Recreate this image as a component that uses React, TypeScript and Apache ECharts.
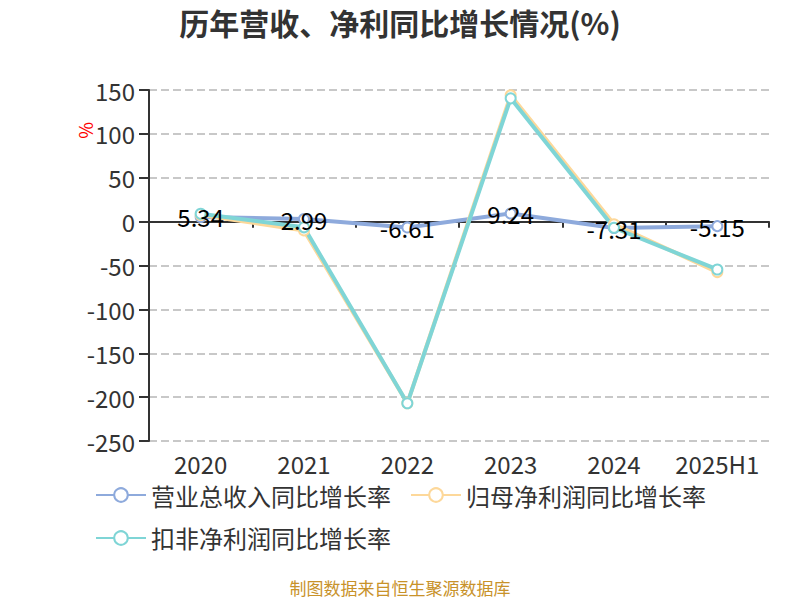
import { useEffect, useRef } from 'react';
import * as echarts from 'echarts';

// ---------------------------------------------------------------------------
// Data
// ---------------------------------------------------------------------------

const CATEGORIES = ['2020', '2021', '2022', '2023', '2024', '2025H1'];
const REVENUE_YOY = [5.34, 2.99, -6.61, 9.24, -7.31, -5.15];
const NET_PROFIT_YOY = [7.5, -10, -207, 144, -3, -57.5];
const DEDUCTED_PROFIT_YOY = [9, -6.5, -207, 140.5, -7, -54.5];
const SERIES_NAMES = ['营业总收入同比增长率', '归母净利润同比增长率', '扣非净利润同比增长率'];
const SERIES_COLORS = ['#8eaadc', '#fdd89a', '#7fd5d6'];

const FONT = '"Noto Sans CJK SC", "Noto Sans", sans-serif';

function lineSeries(idx: number, data: number[], withLabel: boolean): echarts.SeriesOption {
  return {
    name: SERIES_NAMES[idx],
    type: 'line',
    data,
    xAxisIndex: 0,
    symbol: 'emptyCircle',
    symbolSize: 10,
    lineStyle: { width: 4, color: SERIES_COLORS[idx] },
    itemStyle: { color: SERIES_COLORS[idx], borderWidth: 2 },
    label: withLabel
      ? { show: true, position: 'inside', color: '#000', fontSize: 24, fontFamily: FONT }
      : { show: false },
  };
}

export default function App() {
  const ref = useRef<HTMLDivElement | null>(null);

  useEffect(() => {
    document.body.style.margin = '0';
    if (!ref.current) return;
    const chart = echarts.init(ref.current, undefined, { renderer: 'svg' });

    chart.setOption({
      animation: false,
      title: {
        text: '历年营收、净利同比增长情况(%)',
        left: 'center',
        top: 2,
        textStyle: { fontSize: 30, fontWeight: 'bold', color: '#333', fontFamily: FONT },
      },
      grid: { left: 149, right: 31, top: 90, bottom: 159 },
      legend: {
        data: SERIES_NAMES,
        left: 90,
        top: 478,
        width: 680,
        itemWidth: 50,
        itemHeight: 17,
        itemGap: 19,
        textStyle: { fontSize: 24, color: '#333', fontFamily: FONT, padding: [0, 17, 0, 0] },
      },
      xAxis: [
        {
          type: 'category',
          data: CATEGORIES,
          position: 'bottom',
          axisLine: { show: false, onZero: false },
          axisTick: { show: false },
          axisLabel: { fontSize: 24, color: '#333', margin: 10, interval: 0, fontFamily: FONT },
        },
        {
          type: 'category',
          data: CATEGORIES,
          position: 'bottom',
          axisLine: { show: true, onZero: true, lineStyle: { color: '#333', width: 2 } },
          axisTick: { show: true, length: 6, lineStyle: { color: '#333', width: 2 } },
          axisLabel: { show: false },
        },
      ],
      yAxis: {
        type: 'value',
        min: -250,
        max: 150,
        interval: 50,
        axisLine: { show: true, lineStyle: { color: '#333', width: 2 } },
        axisTick: { show: true, length: 10, lineStyle: { color: '#333', width: 2 } },
        axisLabel: { fontSize: 24, color: '#333', margin: 14, fontFamily: FONT },
        splitLine: { show: true, lineStyle: { type: 'dashed', color: '#c8c8c8', width: 2 } },
      },
      series: [
        lineSeries(0, REVENUE_YOY, true),
        lineSeries(1, NET_PROFIT_YOY, false),
        lineSeries(2, DEDUCTED_PROFIT_YOY, false),
      ],
      graphic: [
        {
          type: 'text',
          x: 96,
          y: 122,
          rotation: -Math.PI / 2,
          style: { text: '%', fill: '#ff0000', fontSize: 18, fontFamily: FONT },
        },
        {
          type: 'text',
          left: 'center',
          top: 579,
          style: { text: '制图数据来自恒生聚源数据库', fill: '#c8922a', fontSize: 17, fontFamily: FONT },
        },
      ],
    });

    return () => chart.dispose();
  }, []);

  return <div ref={ref} style={{ width: 800, height: 600 }} />;
}
